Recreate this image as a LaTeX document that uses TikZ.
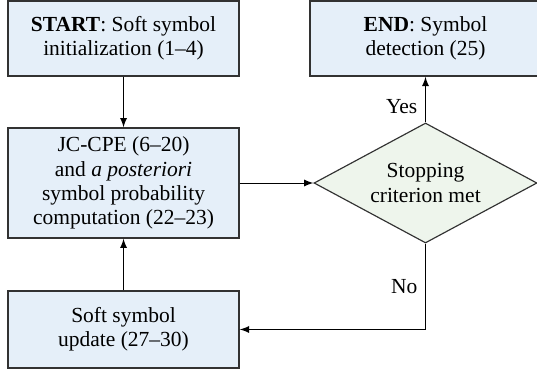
\documentclass[tikz,border=0pt]{standalone}
\usepackage{fontspec}
\setmainfont{Liberation Serif}
\usetikzlibrary{shapes.geometric}
\definecolor{boxblue}{RGB}{229,239,249}
\definecolor{diagreen}{RGB}{238,245,236}
\definecolor{edgegray}{RGB}{50,50,50}

\begin{document}
\begin{tikzpicture}[>=latex, font=\fontsize{9.25}{10.4}\selectfont]
    \tikzstyle{block}=[rectangle, draw=edgegray, line width=0.6pt, fill=boxblue, minimum width=3.495cm, align=center, inner sep=0pt]
    \tikzstyle{decision}=[diamond, aspect=1.86, draw=edgegray, line width=0.5pt, fill=diagreen, minimum width=3.374cm, minimum height=1.816cm, align=center, inner sep=0pt]
    \useasboundingbox (0,0) rectangle (8.125,-5.598);

    \node[block, minimum height=1.135cm] (start) at (1.869,-0.583) {\textbf{START}: Soft symbol\\initialization (1--4)};
    \node[block, minimum height=1.664cm] (jc) at (1.869,-2.769) {JC-CPE (6--20)\\and \emph{a posteriori}\\symbol probability\\computation (22--23)};
    \node[block, minimum height=1.165cm] (upd) at (1.869,-4.985) {Soft symbol\\update (27--30)};
    \node[block, minimum height=1.135cm] (end) at (6.438,-0.583) {\textbf{END}: Symbol\\detection (25)};
    \node[decision] (stop) at (6.438,-2.769) {Stopping\\criterion met};

    \draw[->] (start)--(jc);
    \draw[->] (jc)--(stop);
    \draw[->] (stop)--node[pos=0.35, left]{Yes}(end);
    \draw[->] (stop.south) |- node[pos=0.25, left]{No} (upd.east);
    \draw[->] (upd)--(jc);
\end{tikzpicture}
\end{document}
